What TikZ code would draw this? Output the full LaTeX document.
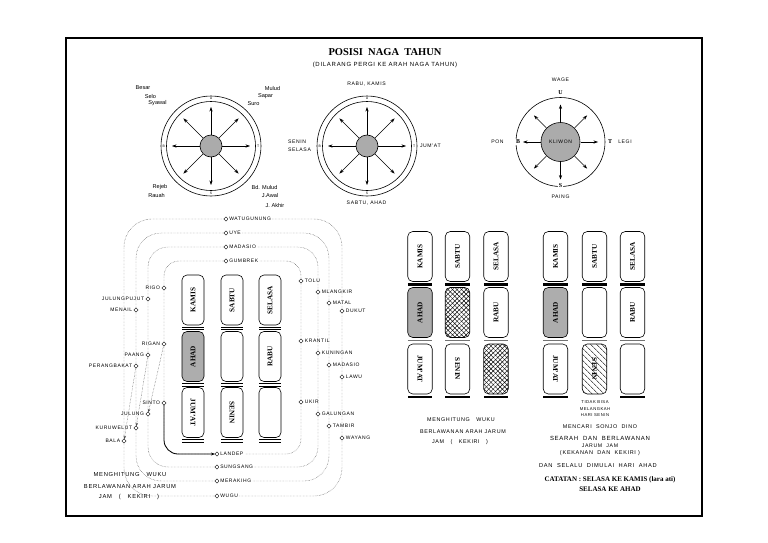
\documentclass[tikz,border=0pt]{standalone}
\usepackage{fontspec}
\usepackage{graphicx}
\setmainfont{Liberation Serif}
\newfontfamily\capsf[LetterSpace=12]{Liberation Sans}
\newfontfamily\plainsf{Liberation Sans}
\usetikzlibrary{arrows.meta,patterns.meta,shapes.geometric}
\tikzset{
  every node/.style={inner sep=0pt, outer sep=0pt},
  ring/.style={line width=0.6pt},
  hub/.style={circle, draw, fill=black!33, line width=0.6pt},
  arr/.style={-{Stealth[length=4.5pt,width=3.2pt]}, line width=0.5pt},
  tinyl/.style={font=\plainsf\fontsize{3.4}{4}\selectfont, fill=white, inner sep=0.3pt},
  bigl/.style={font=\bfseries\fontsize{6}{7}\selectfont, fill=white, inner sep=0.6pt},
  cl/.style={font=\plainsf\fontsize{5.6}{6}\selectfont, text=black},
  capt/.style={font=\capsf\fontsize{5.1}{6}\selectfont, text=black},
  daybox/.style={draw, rounded corners=5pt, minimum width=22pt, minimum height=50pt, line width=0.6pt, font=\bfseries\fontsize{7.2}{8}\selectfont},
  widebox/.style={minimum width=24.5pt},
  ahad/.style={fill=black!32},
  xhatch/.style={preaction={pattern={Lines[angle=45,distance=3.2pt,line width=0.45pt]}}, pattern={Lines[angle=-45,distance=3.2pt,line width=0.45pt]}},
  shatch/.style={pattern={Lines[angle=-45,distance=4pt,line width=0.5pt]}},
  dbar/.style={line width=1pt},
  tbar/.style={line width=2.4pt},
  gbar/.style={line width=1.1pt, black!55},
  loopl/.style={densely dotted, line width=0.45pt, black!70},
  mk/.style={diamond, draw, fill=white, minimum size=4.2pt, line width=0.45pt},
  lbl/.style={font=\capsf\fontsize{5}{5.5}\selectfont, text=black},
}
\newcommand{\mkL}[4]{\node[mk] (#1) at (#2,#3) {}; \node[lbl, anchor=east] (#1-t) at ([xshift=-1.8pt]#1.west) {#4};}
\newcommand{\mkR}[4]{\node[mk] (#1) at (#2,#3) {}; \node[lbl, anchor=west] (#1-t) at ([xshift=1.8pt]#1.east) {#4};}
\newcommand{\mkH}[4]{\node[mk] (#1) at (#2,#3) {}; \node[lbl, anchor=west, fill=white, inner xsep=1.2pt, inner ysep=0.8pt] (#1-t) at (#1.east) {#4};}
\begin{document}
\begin{tikzpicture}[x=1pt,y=-1pt]
\useasboundingbox (0,0) rectangle (768,543);
\fill[white] (0,0) rectangle (768,543);
% frame
\draw[line width=2pt] (66,38) rectangle (702,516);
\node[font=\bfseries\fontsize{10.5}{12}\selectfont] (title) at (385,52) {POSISI\ \ NAGA\ \ TAHUN};
\node[font=\capsf\fontsize{6}{7}\selectfont] (subtitle) at (385,65) {(DILARANG PERGI KE ARAH NAGA TAHUN)};

% ---------- compass 1
\coordinate (c1) at (211,146);
\draw[ring] (c1) circle[radius=50];
\draw[ring] (c1) circle[radius=44.5];
\foreach \a in {0,45,...,315} \draw[arr] (c1) ++(\a:11) -- ++(\a:28);
\node[hub, minimum size=22pt] (h1) at (c1) {};
\node[tinyl] (c1u) at (211,98.8) {U};
\node[tinyl] (c1s) at (211,193.2) {S};
\node[tinyl] (c1b) at (163.8,146) {B};
\node[tinyl] (c1t) at (258.2,146) {T};
\node[cl] (besar) at (143,88) {Besar};
\node[cl] (selo) at (150.5,96) {Selo};
\node[cl] (syawal) at (157.5,103.5) {Syawal};
\node[cl] (mulud) at (272.5,88) {Mulud};
\node[cl] (sapar) at (265.5,96) {Sapar};
\node[cl] (suro) at (253.5,103.5) {Suro};
\node[cl] (rejeb) at (160,187) {Rejeb};
\node[cl] (rauah) at (156.5,195) {Rauah};
\node[cl] (bdmulud) at (264.5,187) {Bd. Mulud};
\node[cl] (jawal) at (270,195) {J.Awal};
\node[cl] (jakhir) at (275,205) {J. Akhir};

% ---------- compass 2
\coordinate (c2) at (367,146);
\draw[ring] (c2) circle[radius=50];
\draw[ring] (c2) circle[radius=44.5];
\foreach \a in {0,45,...,315} \draw[arr] (c2) ++(\a:11) -- ++(\a:28);
\node[hub, minimum size=22pt] (h2) at (c2) {};
\node[tinyl] (c2u) at (367,98.8) {U};
\node[tinyl] (c2s) at (367,193.2) {S};
\node[tinyl] (c2b) at (319.8,146) {B};
\node[tinyl] (c2t) at (414.2,146) {T};
\node[capt] (rk) at (366.5,84) {RABU,\ KAMIS};
\node[capt, anchor=west] (senin) at (288,142) {SENIN};
\node[capt, anchor=west] (selasa) at (288,150) {SELASA};
\node[capt, anchor=west] (jumat) at (420,146) {JUM'AT};
\node[capt] (sa) at (366.5,203) {SABTU,\ AHAD};

% ---------- compass 3
\coordinate (c3) at (560.5,142);
\draw[ring] (c3) circle[radius=44.5];
\foreach \a in {0,45,...,315} \draw[arr] (c3) ++(\a:20) -- ++(\a:17.5);
\node[hub, minimum size=39pt, font=\capsf\fontsize{5}{6}\selectfont] (h3) at (c3) {KLIWON};
\node[bigl] (c3u) at (560.5,92.5) {U};
\node[bigl] (c3s) at (560.5,186) {S};
\node[bigl] (c3b) at (518,142) {B};
\node[bigl] (c3t) at (610,142) {T};
\node[capt] (wage) at (560.5,80) {WAGE};
\node[capt] (paing) at (560.5,196.5) {PAING};
\node[capt] (pon) at (497.5,142) {PON};
\node[capt] (legi) at (625,142) {LEGI};

% ---------- left spiral
\draw[loopl, rounded corners=15pt] (164,261) rectangle (301,454);
\draw[loopl, rounded corners=20pt] (148,247) rectangle (318,467);
\draw[loopl, rounded corners=25pt] (136,233) rectangle (329,481);
\draw[loopl, rounded corners=28pt] (124,219) rectangle (342,496);

\mkH{watugunung}{226}{219}{WATUGUNUNG}
\mkH{uye}{226}{233}{UYE}
\mkH{madasioA}{226}{247}{MADASIO}
\mkH{gumbrek}{226}{261}{GUMBREK}
\mkH{landep}{217}{454}{LANDEP}
\mkH{sungsang}{217}{467}{SUNGSANG}
\mkH{merakihg}{217}{481}{MERAKIHG}
\mkH{wugu}{217}{496}{WUGU}

\mkL{rigo}{164}{288}{RIGO}
\mkL{julungpujut}{148}{299}{JULUNGPUJUT}
\mkL{menail}{136}{310}{MENAIL}
\mkL{rigan}{164}{344}{RIGAN}
\mkL{paang}{148}{355}{PAANG}
\mkL{perangbakat}{136}{366}{PERANGBAKAT}
\mkL{sinto}{164}{403}{SINTO}
\mkL{julung}{148}{414}{JULUNG}
\mkL{kuruwelut}{136}{428}{KURUWELUT}
\mkL{bala}{124}{441}{BALA}

\mkR{tolu}{301}{281}{TOLU}
\mkR{mlangkir}{318}{292}{MLANGKIR}
\mkR{matal}{329}{303}{MATAL}
\mkR{dukut}{342}{311}{DUKUT}
\mkR{krantil}{301}{341}{KRANTIL}
\mkR{kuningan}{318}{353}{KUNINGAN}
\mkR{madasioB}{329}{365}{MADASIO}
\mkR{lawu}{342}{377}{LAWU}
\mkR{ukir}{301}{402}{UKIR}
\mkR{galungan}{318}{414}{GALUNGAN}
\mkR{tambir}{329}{426}{TAMBIR}
\mkR{wayang}{342}{438}{WAYANG}

\draw[line width=0.8pt, -{Stealth[length=4pt,width=3pt]}, rounded corners=14pt] (sinto) |- (landep);
\draw[loopl, -{Stealth[length=3.5pt,width=2.6pt]}] (rigan) -- (julung);
\draw[loopl, -{Stealth[length=3.5pt,width=2.6pt]}] (paang) -- (kuruwelut);
\draw[loopl, -{Stealth[length=3.5pt,width=2.6pt]}] (perangbakat) -- (bala);

% left grid
\node[daybox] (lk) at (193,300) {\rotatebox{90}{KAMIS}};
\node[daybox] (ls) at (232,300) {\rotatebox{90}{SABTU}};
\node[daybox] (lsl) at (270,300) {\rotatebox{90}{SELASA}};
\node[daybox, ahad] (la) at (193,356.5) {\rotatebox{90}{AHAD}};
\node[daybox] (le) at (232,356.5) {};
\node[daybox] (lr) at (270,356.5) {\rotatebox{90}{RABU}};
\node[daybox] (lj) at (193,412.5) {\rotatebox{-90}{JUM'AT}};
\node[daybox] (lsn) at (232,412.5) {\rotatebox{-90}{SENIN}};
\node[daybox] (le2) at (270,412.5) {};
\foreach \n in {lk,ls,lsl,la,le,lr,lj,lsn,le2} {
  \draw[dbar] ([yshift=-2.3pt]\n.south west) -- ([yshift=-2.3pt]\n.south east);
  \draw[dbar] ([yshift=-4.8pt]\n.south west) -- ([yshift=-4.8pt]\n.south east);
}
\node[capt, font=\capsf\fontsize{5.8}{6}\selectfont] (lc1) at (130,474) {MENGHITUNG\ \ \ WUKU};
\node[capt, font=\capsf\fontsize{5.8}{6}\selectfont] (lc2) at (130,487) {BERLAWANAN ARAH JARUM};
\node[capt, font=\capsf\fontsize{5.8}{6}\selectfont] (lc3) at (129,497) {JAM\ \ \ (\ \ \ KEKIRI\ \ \ )};

% middle grid
\node[daybox, widebox] (mk1) at (420,256.5) {\rotatebox{90}{KAMIS}};
\node[daybox, widebox] (ms1) at (457.5,256.5) {\rotatebox{90}{SABTU}};
\node[daybox, widebox] (msl) at (496,256.5) {\rotatebox{90}{SELASA}};
\node[daybox, widebox, ahad] (ma) at (420,312.5) {\rotatebox{90}{AHAD}};
\node[daybox, widebox, xhatch] (mx1) at (457.5,312.5) {};
\node[daybox, widebox] (mr) at (496,312.5) {\rotatebox{90}{RABU}};
\node[daybox, widebox] (mj) at (420,369) {\rotatebox{-90}{JUM'AT}};
\node[daybox, widebox] (msn) at (457.5,369) {\rotatebox{-90}{SENIN}};
\node[daybox, widebox, xhatch] (mx2) at (496,369) {};
\foreach \n in {mk1,ms1,msl,mj,msn,mx2} \draw[tbar] ([yshift=-3pt]\n.south west) -- ([yshift=-3pt]\n.south east);
\foreach \n in {ma,mx1,mr} \draw[gbar] ([yshift=-3pt]\n.south west) -- ([yshift=-3pt]\n.south east);
\node[capt, font=\capsf\fontsize{5.4}{6}\selectfont] (mc1) at (461,420) {MENGHITUNG\ \ \ WUKU};
\node[capt, font=\capsf\fontsize{5.4}{6}\selectfont] (mc2) at (463,432) {BERLAWANAN ARAH JARUM};
\node[capt, font=\capsf\fontsize{5.4}{6}\selectfont] (mc3) at (460,442.5) {JAM\ \ \ (\ \ \ KEKIRI\ \ \ )};

% right grid
\node[daybox, widebox] (rk1) at (555.5,256.5) {\rotatebox{90}{KAMIS}};
\node[daybox, widebox] (rs1) at (594.5,256.5) {\rotatebox{90}{SABTU}};
\node[daybox, widebox] (rsl) at (632.5,256.5) {\rotatebox{90}{SELASA}};
\node[daybox, widebox, ahad] (ra) at (555.5,312.5) {\rotatebox{90}{AHAD}};
\node[daybox, widebox] (re1) at (594.5,312.5) {};
\node[daybox, widebox] (rr) at (632.5,312.5) {\rotatebox{90}{RABU}};
\node[daybox, widebox] (rj) at (555.5,369) {\rotatebox{-90}{JUM'AT}};
\node[daybox, widebox, shatch] (rsn) at (594.5,369) {\rotatebox{-90}{SENIN}};
\node[daybox, widebox] (re2) at (632.5,369) {};
\foreach \n in {rk1,rs1,rsl,rj,re2} \draw[tbar] ([yshift=-3pt]\n.south west) -- ([yshift=-3pt]\n.south east);
\foreach \n in {ra,re1,rr} \draw[gbar] ([yshift=-3pt]\n.south west) -- ([yshift=-3pt]\n.south east);
\node[capt, font=\capsf\fontsize{4.2}{5}\selectfont] (rt1) at (595,402) {TIDAK BISA};
\node[capt, font=\capsf\fontsize{4.2}{5}\selectfont] (rt2) at (595,409) {MELANGKAH};
\node[capt, font=\capsf\fontsize{4.2}{5}\selectfont] (rt3) at (595,415.5) {HARI SENIN};
\node[capt, font=\capsf\fontsize{5.4}{6}\selectfont] (rc1) at (600,427) {MENCARI\ \ SONJO\ \ DINO};
\node[capt, font=\capsf\fontsize{6}{6}\selectfont] (rc2) at (600,438) {SEARAH\ \ DAN\ \ BERLAWANAN};
\node[capt, font=\capsf\fontsize{5.2}{6}\selectfont] (rc3) at (600,446) {JARUM\ \ JAM};
\node[capt, font=\capsf\fontsize{5.5}{6}\selectfont] (rc4) at (600,453.5) {(\,KEKANAN\ \ DAN\ \ KEKIRI\ )};
\node[capt, font=\capsf\fontsize{5.7}{6}\selectfont] (rc5) at (598,466) {DAN\ \ SELALU\ \ DIMULAI\ \ HARI\ \ AHAD};
\node[font=\bfseries\fontsize{7}{8}\selectfont] (cat1) at (610,480) {CATATAN : SELASA KE KAMIS (lara ati)};
\node[font=\bfseries\fontsize{7}{8}\selectfont] (cat2) at (610,489.5) {SELASA KE AHAD};
\end{tikzpicture}
\end{document}
